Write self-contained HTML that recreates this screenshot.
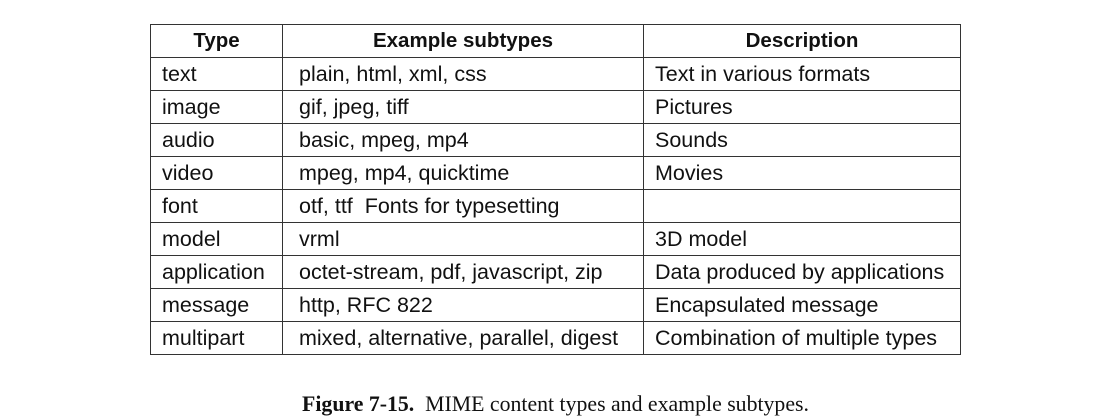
<!DOCTYPE html>
<html><head><style>
body{margin:0;width:1111px;height:419px;background:#fff;position:relative;overflow:hidden;font-family:"Liberation Sans",sans-serif;color:#111}
table{position:absolute;left:150px;top:24px;border-collapse:collapse;font-size:21.5px;table-layout:fixed;width:810px}
td,th{border:1px solid #333;height:32px;padding:0 0 0 11px;text-align:left;white-space:nowrap;overflow:visible;line-height:22px}
th{text-align:center;padding:0;font-weight:bold;font-size:20.5px}
td.m{padding-left:16px}
.cap{position:absolute;top:392px;left:0;width:1111px;text-align:center;font-family:"Liberation Serif",serif;font-size:21.8px}
</style></head><body>
<table>
<colgroup><col style="width:132px"><col style="width:361px"><col style="width:317px"></colgroup>
<tr><th>Type</th><th>Example subtypes</th><th>Description</th></tr>
<tr><td>text</td><td class="m">plain, html, xml, css</td><td>Text in various formats</td></tr>
<tr><td>image</td><td class="m">gif, jpeg, tiff</td><td>Pictures</td></tr>
<tr><td>audio</td><td class="m">basic, mpeg, mp4</td><td>Sounds</td></tr>
<tr><td>video</td><td class="m">mpeg, mp4, quicktime</td><td>Movies</td></tr>
<tr><td>font</td><td class="m">otf, ttf&nbsp; Fonts for typesetting</td><td></td></tr>
<tr><td>model</td><td class="m">vrml</td><td>3D model</td></tr>
<tr><td>application</td><td class="m">octet-stream, pdf, javascript, zip</td><td>Data produced by applications</td></tr>
<tr><td>message</td><td class="m">http, RFC 822</td><td>Encapsulated message</td></tr>
<tr><td>multipart</td><td class="m">mixed, alternative, parallel, digest</td><td>Combination of multiple types</td></tr>
</table>
<div class="cap"><b>Figure 7-15.</b>&nbsp; MIME content types and example subtypes.</div>
</body></html>
